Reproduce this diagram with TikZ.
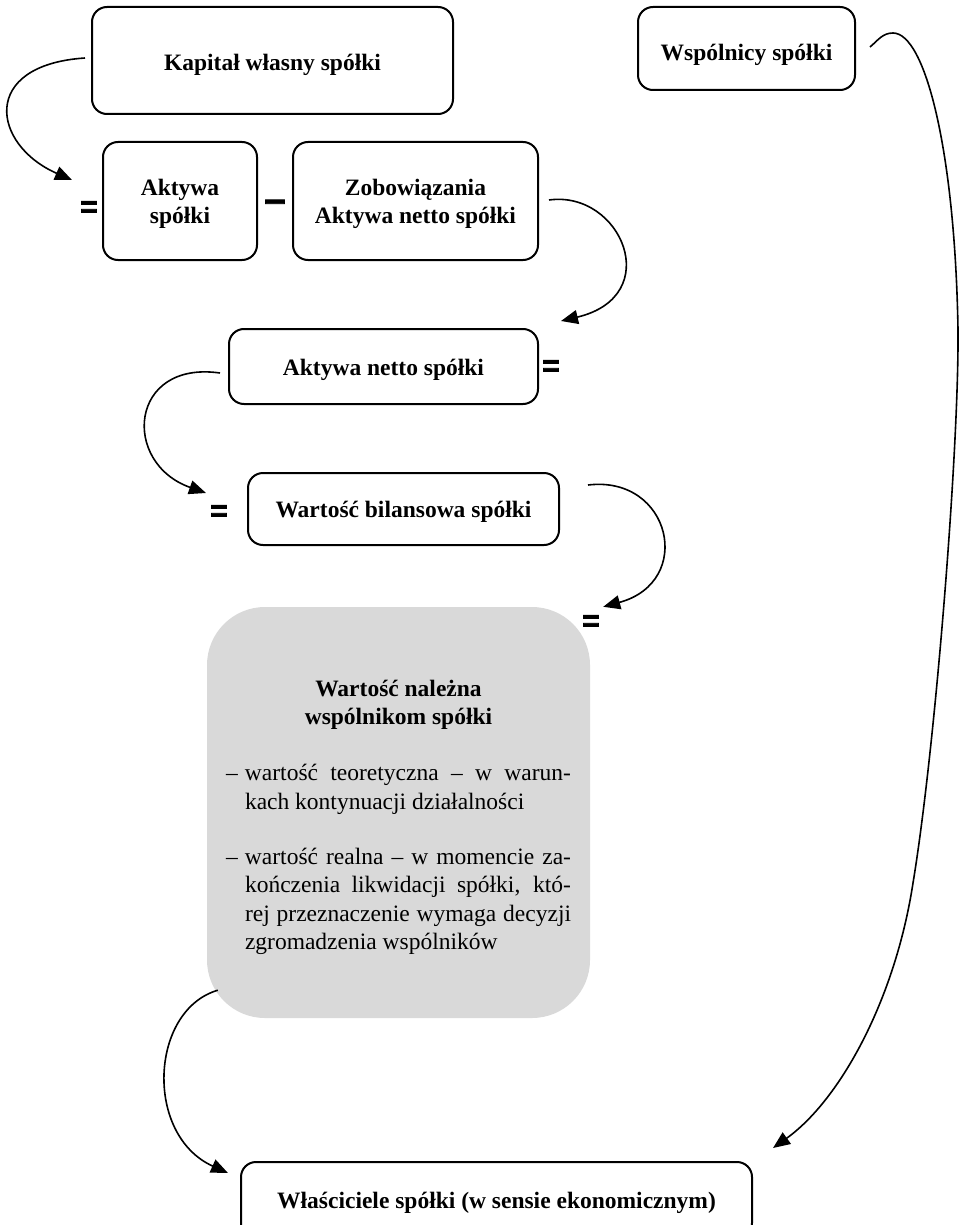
\documentclass[tikz,border=0pt]{standalone}
\usepackage{fontspec}
\setmainfont{Liberation Serif}
\newfontfamily\signfont[FakeBold=2.5]{Liberation Sans}
\usetikzlibrary{arrows.meta}
\definecolor{boxgrey}{HTML}{D9D9D9}
% one justified / one ragged line of the hanging list in the grey box
\newcommand\fullline[1]{\makebox[326pt][s]{#1}}
\newcommand\shortline[1]{\makebox[326pt][l]{#1}}
\begin{document}
\begin{tikzpicture}[x=1pt,y=1pt,
  box/.style={draw, line width=2pt, rounded corners=15pt, align=center, inner sep=0pt,
    font=\fontsize{23.5}{28}\selectfont\bfseries, text height=22pt, text depth=5pt},
  twoline/.style={text height=50pt, text depth=5pt},
  greybox/.style={fill=boxgrey, rounded corners=58pt, inner sep=0pt},
  sign/.style={font=\signfont\bfseries\fontsize{30}{30}\selectfont, inner sep=0pt},
  link/.style={line width=1.6pt, -{Triangle[length=17pt,width=14pt]}}]
\useasboundingbox (0,0) rectangle (959,-1225);

% boxes
\node[box, text height=26pt, minimum width=361pt, minimum height=107pt] (kap) at (272.5,-60.5) {Kapitał własny spółki};
\node[box, text height=30pt, minimum width=217pt, minimum height=83pt] (wsp) at (746.5,-48.5) {Wspólnicy spółki};
\node[box, twoline, minimum width=154pt, minimum height=118pt] (akt) at (180,-201) {Aktywa\\spółki};
\node[box, twoline, minimum width=245pt, minimum height=118pt] (zob) at (415.5,-201) {Zobowiązania\\Aktywa netto spółki};
\node[box, minimum width=309pt, minimum height=75pt] (netto) at (383.5,-366.5) {Aktywa netto spółki};
\node[box, minimum width=311pt, minimum height=72pt] (bil) at (403.5,-509) {Wartość bilansowa spółki};
\node[greybox, minimum width=383pt, minimum height=411pt] (nal) at (398.5,-812.5) {%
  \parbox{345pt}{\fontsize{23.5}{28.5}\selectfont
  \vspace*{10pt}
  \centering\bfseries Wartość należna\\wspólnikom spółki\par
  \vspace{27.5pt}
  \mdseries\raggedright
  \makebox[19pt][l]{–}\fullline{wartość teoretyczna – w warun-}\\
  \hspace*{19pt}\shortline{kach kontynuacji działalności}\par
  \vspace{26.5pt}
  \makebox[19pt][l]{–}\fullline{wartość realna – w momencie za-}\\
  \hspace*{19pt}\fullline{kończenia likwidacji spółki, któ-}\\
  \hspace*{19pt}\fullline{rej przeznaczenie wymaga decyzji}\\
  \hspace*{19pt}\shortline{zgromadzenia wspólników}\par}};
\node[box, minimum width=511pt, minimum height=76pt] (wl) at (496.5,-1200) {Właściciele spółki (w sensie ekonomicznym)};

% operators
\node[sign] (eqA) at (89,-209) {=};
\node[sign, font=\signfont\bfseries\fontsize{38}{38}\selectfont] (minus) at (275,-206) {–};
\node[sign] (eqB) at (551,-368) {=};
\node[sign] (eqC) at (219,-513) {=};
\node[sign] (eqD) at (591,-623) {=};

% connectors
\draw[link] ([shift={(-6,2.5)}]kap.west) .. controls +(-106,-7) and +(-80,35) .. ([shift={(-30,21)}]akt.west);
\draw[link] ([shift={(10,1)}]zob.east) .. controls +(72,10) and +(105,25) .. ([shift={(22,7)}]netto.north east);
\draw[link] ([shift={(-8,-6.5)}]netto.west) .. controls +(-91,13) and +(-85,30) .. ([shift={(-41,16)}]bil.west);
\draw[link] ([shift={(28,24)}]bil.east) .. controls +(83,10) and +(92,25) .. ([shift={(13,0)}]nal.north east);
\draw[link] ([shift={(11,28)}]nal.south west) .. controls +(-68,-20) and +(-84,38) .. ([shift={(-12,27)}]wl.west);
\draw[link] ([shift={(14,1.5)}]wsp.east) to[out=40,in=180] (893,-33)
  .. controls (925,-33) and (955,-150) .. (958,-330)
  .. controls (959,-450) and (935,-750) .. (913,-883)
  .. controls (895,-1000) and (840,-1100) .. ([shift={(20,13)}]wl.north east);
\end{tikzpicture}
\end{document}
